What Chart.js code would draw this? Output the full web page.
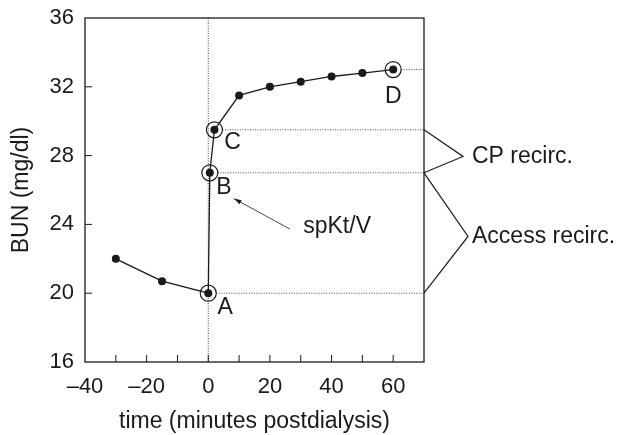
<!DOCTYPE html>
<html>
<head>
<meta charset="utf-8">
<script src="https://cdn.jsdelivr.net/npm/chart.js@4.4.0/dist/chart.umd.min.js"></script>
<style>
  html, body { margin: 0; padding: 0; background: #fff; }
  #wrap { width: 618px; height: 435px; }
</style>
</head>
<body>
<div id="wrap"><canvas id="c"></canvas></div>
<script>
// BUN rebound after dialysis
const timeMin = [-30, -15, 0, 0.5, 2, 10, 20, 30, 40, 50, 60];
const bun = [22.0, 20.7, 20.0, 27.0, 29.5, 31.5, 32.0, 32.3, 32.6, 32.8, 33.0];
const markedIdx = [2, 3, 4, 10];
const markedNames = ["A", "B", "C", "D"];
const xTickLabels = [-40, -20, 0, 20, 40, 60];
const yTickLabels = [16, 20, 24, 28, 32, 36];
const bracketGroups = [
  { name: "CP recirc.", from: 29.5, to: 27.0, tip: 27.95 },
  { name: "Access recirc.", from: 27.0, to: 20.0, tip: 23.3 },
];

const FONT = "'Liberation Sans', Arial, sans-serif";
const INK = "#1a1a1a";

// annotation layer: frame, inward ticks, dotted guides, letters, arrow, brackets
const overlay = {
  id: "overlay",
  afterDatasetsDraw(chart) {
    const { ctx, chartArea: a } = chart;
    const xs = chart.scales.x, ys = chart.scales.y;
    ctx.save();

    // dotted guides
    ctx.strokeStyle = INK;
    ctx.lineWidth = 0.8;
    ctx.setLineDash([1, 1.5]);
    ctx.beginPath();
    ctx.moveTo(xs.getPixelForValue(0), a.top);
    ctx.lineTo(xs.getPixelForValue(0), a.bottom);
    markedIdx.forEach(i => {
      const px = xs.getPixelForValue(timeMin[i]) + 8;
      const py = ys.getPixelForValue(bun[i]);
      ctx.moveTo(px, py);
      ctx.lineTo(a.right, py);
    });
    ctx.stroke();
    ctx.setLineDash([]);

    // frame
    ctx.lineWidth = 1.3;
    ctx.strokeRect(a.left, a.top, a.right - a.left, a.bottom - a.top);

    // inward ticks
    ctx.lineWidth = 1;
    ctx.beginPath();
    for (let v = -30; v < 70; v += 10) {
      const px = xs.getPixelForValue(v);
      ctx.moveTo(px, a.bottom);
      ctx.lineTo(px, a.bottom - 7);
    }
    for (let v = 20; v < 36; v += 4) {
      const py = ys.getPixelForValue(v);
      ctx.moveTo(a.left, py);
      ctx.lineTo(a.left + 7, py);
    }
    ctx.stroke();

    // letters
    const offs = [[17, 14], [14, 15], [18, 13], [0, 27]];
    ctx.fillStyle = INK;
    ctx.font = "23px " + FONT;
    ctx.textAlign = "center";
    ctx.textBaseline = "middle";
    markedIdx.forEach((i, k) => {
      ctx.fillText(markedNames[k],
        xs.getPixelForValue(timeMin[i]) + offs[k][0],
        ys.getPixelForValue(bun[i]) + offs[k][1]);
    });

    // spKt/V arrow
    ctx.fillText("spKt/V", xs.getPixelForValue(41.8), ys.getPixelForValue(23.85));
    const tx = xs.getPixelForValue(26.5), ty = ys.getPixelForValue(23.73);
    const hx = xs.getPixelForValue(8.3), hy = ys.getPixelForValue(25.5);
    ctx.lineWidth = 0.8;
    ctx.beginPath();
    ctx.moveTo(tx, ty);
    ctx.lineTo(hx, hy);
    ctx.stroke();
    const ang = Math.atan2(hy - ty, hx - tx);
    ctx.beginPath();
    ctx.moveTo(hx, hy);
    ctx.lineTo(hx - 8 * Math.cos(ang - 0.3), hy - 8 * Math.sin(ang - 0.3));
    ctx.lineTo(hx - 8 * Math.cos(ang + 0.3), hy - 8 * Math.sin(ang + 0.3));
    ctx.closePath();
    ctx.fill();

    // brackets outside the frame
    ctx.lineWidth = 1.2;
    ctx.textAlign = "left";
    bracketGroups.forEach((g, k) => {
      const tipX = a.right + (k === 0 ? 39 : 44);
      const tipY = ys.getPixelForValue(g.tip);
      ctx.beginPath();
      ctx.moveTo(a.right, ys.getPixelForValue(g.from));
      ctx.lineTo(tipX, tipY);
      ctx.lineTo(a.right, ys.getPixelForValue(g.to));
      ctx.stroke();
      ctx.fillText(g.name, a.right + 48, tipY);
    });

    ctx.restore();
  },
};

new Chart(document.getElementById("c"), {
  type: "scatter",
  data: {
    datasets: [
      {
        data: timeMin.map((t, i) => ({ x: t, y: bun[i] })),
        showLine: true,
        borderColor: INK,
        borderWidth: 1.3,
        pointRadius: 4,
        pointBackgroundColor: INK,
        pointBorderWidth: 0,
      },
      {
        data: markedIdx.map(i => ({ x: timeMin[i], y: bun[i] })),
        showLine: false,
        pointRadius: 8,
        pointBackgroundColor: "rgba(0,0,0,0)",
        pointBorderColor: INK,
        pointBorderWidth: 1.2,
      },
    ],
  },
  options: {
    responsive: true,
    maintainAspectRatio: false,
    animation: false,
    events: [],
    layout: { padding: { top: 18, right: 194, left: 0, bottom: 0 } },
    plugins: { legend: { display: false }, tooltip: { enabled: false } },
    scales: {
      x: {
        type: "linear",
        min: -40,
        max: 70,
        afterBuildTicks: s => { s.ticks = xTickLabels.map(v => ({ value: v })); },
        afterFit: s => { s.height = 73; s.paddingLeft = 0; s.paddingRight = 0; },
        grid: { display: false, drawTicks: false },
        border: { display: false },
        ticks: {
          color: INK,
          font: { family: FONT, size: 22 },
          padding: 12,
          maxRotation: 0,
          callback: v => (v < 0 ? "\u2013" + Math.abs(v) : String(v)),
        },
        title: {
          display: true,
          text: "time (minutes postdialysis)",
          color: INK,
          font: { family: FONT, size: 23 },
          padding: { top: 4, bottom: 0 },
        },
      },
      y: {
        type: "linear",
        min: 16,
        max: 36,
        afterBuildTicks: s => { s.ticks = yTickLabels.map(v => ({ value: v })); },
        afterFit: s => { s.width = 85; s.paddingTop = 0; s.paddingBottom = 0; },
        grid: { display: false, drawTicks: false },
        border: { display: false },
        ticks: {
          color: INK,
          font: { family: FONT, size: 22 },
          padding: 11,
        },
        title: {
          display: true,
          text: "BUN (mg/dl)",
          color: INK,
          font: { family: FONT, size: 23 },
          padding: { bottom: 0, top: 8 },
        },
      },
    },
  },
  plugins: [overlay],
});
</script>
</body>
</html>
